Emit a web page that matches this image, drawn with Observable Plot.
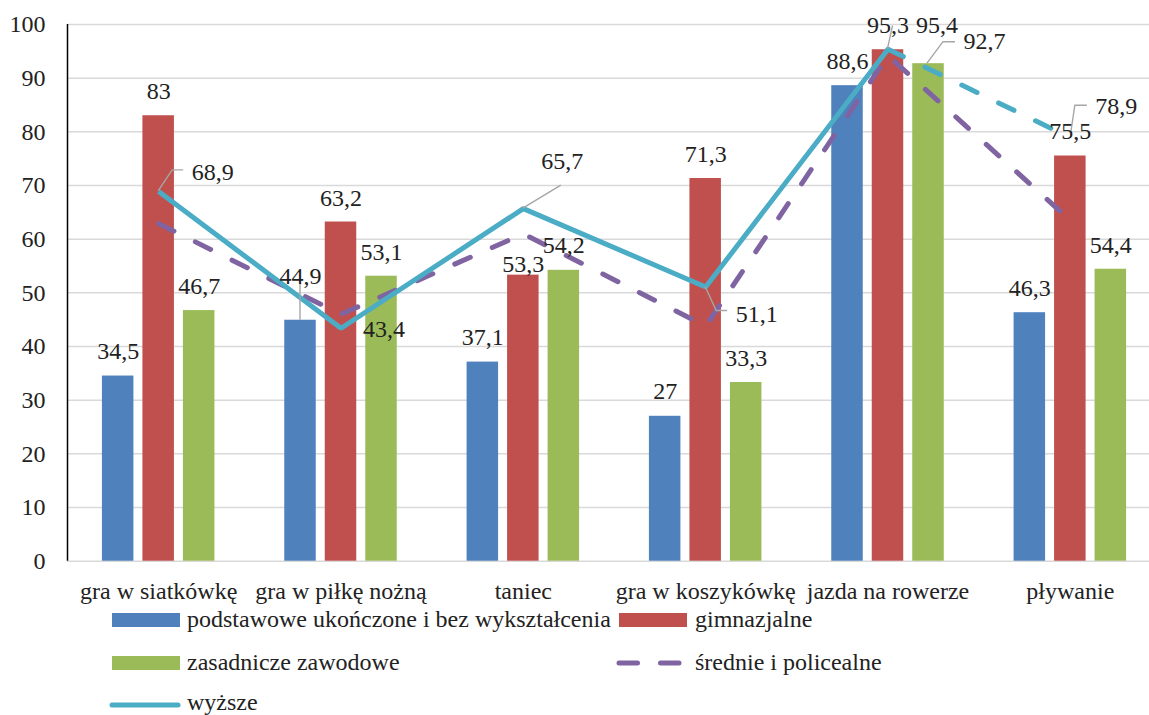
<!DOCTYPE html>
<html><head><meta charset="utf-8">
<script src="https://cdn.jsdelivr.net/npm/d3@7"></script>
<script src="https://cdn.jsdelivr.net/npm/@observablehq/plot@0.6"></script>
<style>
body{margin:0;background:#fff;font-family:"Liberation Serif","Tinos","Times New Roman","DejaVu Serif","Noto Serif",serif;}
#wrap{position:relative;width:1149px;height:715px;overflow:hidden;background:#fff;}
#chart{position:absolute;left:0;top:0;}
.lg{position:absolute;height:22px;line-height:22px;font-size:24px;color:#222;white-space:nowrap;}
.sw{position:absolute;}
</style></head><body><div id="wrap"><div id="chart"></div></div>
<script>
const categories = ["gra w siatkówkę","gra w piłkę nożną","taniec","gra w koszykówkę","jazda na rowerze","pływanie"];
const seriesNames = ["podstawowe ukończone i bez wykształcenia","gimnazjalne","zasadnicze zawodowe","średnie i policealne","wyższe"];
const podstawowe = [34.5, 44.9, 37.1, 27, 88.6, 46.3];
const gimnazjalne = [83, 63.2, 53.3, 71.3, 95.3, 75.5];
const zasadnicze = [46.7, 53.1, 54.2, 33.3, 92.7, 54.4];
const srednie = [62.9, 46, 61, 43.8, 94.2, 63.5];
const wyzsze = [68.9, 43.4, 65.7, 51.1, 95.4, 78.9];
const yTicks = [0,10,20,30,40,50,60,70,80,90,100];

const FONT = "'Liberation Serif', 'Tinos', 'Times New Roman', 'DejaVu Serif', 'Noto Serif', serif";
const FS = 24;
const colors = {blue:"#4F81BD", red:"#C0504D", green:"#9BBB59", purple:"#8064A2", cyan:"#4BACC6"};
const textColor = "#222";
const leaderColor = "#a6a6a6";
const idx = d3.range(categories.length);
const fmt = v => String(v).replace(".", ",");

// label placement (pixel offsets from the anchor of each value)
const barSeries = [
  {vals: podstawowe, color: colors.blue, off: -40.5, ldx: [0,0,0,0,0,0], ldy: [-24.5,-43.5,-24.5,-24.5,-24.5,-24.5]},
  {vals: gimnazjalne, color: colors.red, off: 0, ldx: [0,0,0,0,0,0], ldy: [-24.5,-24,-11,-24.5,-24.5,-24.5]},
  {vals: zasadnicze, color: colors.green, off: 40.5, ldx: [0,0,0,0,56,0], ldy: [-24,-24,-24.5,-24,-22,-24]}
];
const lineLabelDx = [54, 43, 39, 51, 49, 46];
const lineLabelDy = [-19, 1, -47, 27, -24, -31];

const leaders = [
  {vals: wyzsze, i: 0, off: 0, pts: [[0,0],[14,-21],[25,-21]]},
  {vals: podstawowe, i: 1, off: -40.5, pts: [[0,0],[0,-37]]},
  {vals: wyzsze, i: 2, off: 0, pts: [[0,0],[38,-23]]},
  {vals: wyzsze, i: 3, off: 0, pts: [[0,0],[11,24],[22,24]]},
  {vals: wyzsze, i: 4, off: 0, pts: [[0,0],[5,-23]]},
  {vals: zasadnicze, i: 4, off: 40.5, pts: [[-1,0],[15,-21.5],[27,-21.5]]},
  {vals: wyzsze, i: 5, off: 0, pts: [[1,-5],[5,-32],[17,-32]]}
];

function leaderMark(specs) {
  return (index, scales) => {
    const g = d3.create("svg:g").attr("fill","none").attr("stroke",leaderColor).attr("stroke-width",1.4);
    for (const s of specs) {
      const x = scales.x(s.i) + s.off, y = scales.y(s.vals[s.i]);
      g.append("polyline").attr("points", s.pts.map(([dx,dy]) => `${x+dx},${y+dy}`).join(" "));
    }
    return g.node();
  };
}

const inset = (182.33 - 31.5) / 2;
const marks = [
  Plot.gridY(yTicks, {stroke: "#d9d9d9", strokeOpacity: 1, strokeWidth: 1.5}),
  Plot.axisY(yTicks, {tickSize: 0, tickPadding: 22, fontSize: FS, fill: textColor}),
  Plot.ruleX([-0.5], {y1: 0, y2: 100, stroke: "#000", strokeWidth: 1.5}),
  ...barSeries.map(s => Plot.rectY(idx, {x1: i => i - 0.5, x2: i => i + 0.5, y: i => s.vals[i], fill: s.color, insetLeft: inset, insetRight: inset, dx: s.off})),
  Plot.line(idx, {x: i => i, y: i => srednie[i], stroke: colors.purple, strokeWidth: 5, strokeDasharray: "17,24", strokeLinecap: "round"}),
  Plot.line(idx.slice(0,5), {x: i => i, y: i => wyzsze[i], stroke: colors.cyan, strokeWidth: 5, strokeLinejoin: "miter", strokeLinecap: "butt"}),
  Plot.line(idx.slice(4), {x: i => i, y: i => wyzsze[i], stroke: colors.cyan, strokeWidth: 5, strokeDasharray: "17,24", strokeLinecap: "round"}),
  leaderMark(leaders),
  ...barSeries.flatMap(s => idx.map(i => Plot.text([i], {x: i => i, y: i => s.vals[i], text: i => fmt(s.vals[i]), dx: s.off + s.ldx[i], dy: s.ldy[i], fontSize: FS, fill: textColor}))),
  ...idx.map(i => Plot.text([i], {x: i => i, y: i => wyzsze[i], text: i => fmt(wyzsze[i]), dx: lineLabelDx[i], dy: lineLabelDy[i], fontSize: FS, fill: textColor})),
  Plot.text(idx, {x: i => i, y: () => 0, text: i => categories[i], dy: 30, fontSize: FS, fill: textColor})
];

const chart = Plot.plot({
  width: 1149, height: 605,
  marginTop: 24, marginBottom: 44, marginLeft: 67, marginRight: 0,
  style: {fontFamily: FONT, background: "#fff", overflow: "visible"},
  x: {domain: [-0.5, 5.5], range: [67, 1161], axis: null},
  y: {domain: [0, 100], range: [560.7, 24], axis: null, label: null},
  marks
});
chart.setAttribute("font-family", FONT);
document.getElementById("chart").appendChild(chart);

// legend (HTML, below the SVG)
const wrap = document.getElementById("wrap");
const legendItems = [
  {name: seriesNames[0], color: colors.blue, kind: "rect", sx: 112, tx: 187, cy: 620, ty: 608},
  {name: seriesNames[1], color: colors.red, kind: "rect", sx: 619, tx: 695, cy: 620, ty: 608},
  {name: seriesNames[2], color: colors.green, kind: "rect", sx: 112, tx: 187, cy: 663, ty: 651},
  {name: seriesNames[3], color: colors.purple, kind: "dash", sx: 614, tx: 695, cy: 663, ty: 651},
  {name: seriesNames[4], color: colors.cyan, kind: "line", sx: 107, tx: 187, cy: 705, ty: 691}
];
for (const it of legendItems) {
  const sw = d3.create("svg").attr("class","sw").attr("width", 76).attr("height", 16)
    .style("left", it.sx + "px").style("top", (it.cy - 8) + "px");
  if (it.kind === "rect") sw.append("rect").attr("x",0).attr("y",1).attr("width",68).attr("height",14).attr("fill",it.color);
  else if (it.kind === "dash") sw.append("line").attr("x1",5).attr("x2",68).attr("y1",8).attr("y2",8).attr("stroke",it.color).attr("stroke-width",5).attr("stroke-linecap","round").attr("stroke-dasharray","18.5,23");
  else sw.append("line").attr("x1",5).attr("x2",71).attr("y1",8).attr("y2",8).attr("stroke",it.color).attr("stroke-width",5).attr("stroke-linecap","round");
  wrap.appendChild(sw.node());
  const t = document.createElement("div");
  t.className = "lg"; t.textContent = it.name;
  t.style.left = it.tx + "px"; t.style.top = it.ty + "px";
  wrap.appendChild(t);
}
</script></body></html>
